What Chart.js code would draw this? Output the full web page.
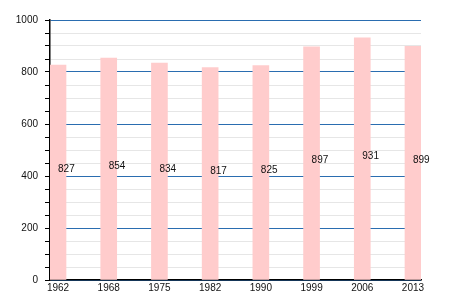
<!DOCTYPE html>
<html><head><meta charset="utf-8">
<script src="https://cdn.jsdelivr.net/npm/chart.js@4/dist/chart.umd.min.js"></script>
<style>html,body{margin:0;padding:0;background:#fff}#w{width:450px;height:300px}</style>
</head><body><div id="w"><canvas id="c"></canvas></div>
<script>
const years = ['1962','1968','1975','1982','1990','1999','2006','2013'];
const population = [827, 854, 834, 817, 825, 897, 931, 899];
const yMax = 1000;
const yMinorStep = 50;
const yMajorStep = 200;

const FONT = {family: '"Liberation Sans", Arial, sans-serif', size: 10};

const valueLabels = {
  id: 'valueLabels',
  afterDatasetsDraw(chart) {
    const ctx = chart.ctx;
    const xs = chart.scales.x, ys = chart.scales.y;
    ctx.save();
    ctx.font = '10px "Liberation Sans", Arial, sans-serif';
    ctx.fillStyle = '#111';
    ctx.textAlign = 'left';
    ctx.textBaseline = 'alphabetic';
    population.forEach((v, i) => {
      ctx.fillText(String(v), xs.getPixelForValue(i), ys.getPixelForValue(v / 2));
    });
    ctx.restore();
  }
};

new Chart(document.getElementById('c'), {
  type: 'bar',
  data: {
    datasets: [{
      data: population.map((v, i) => ({x: i, y: v})),
      backgroundColor: '#ffcccc',
      borderWidth: 0,
      barThickness: 16
    }]
  },
  options: {
    responsive: true,
    maintainAspectRatio: false,
    animation: false,
    layout: {padding: {left: 0, right: 29, top: 20, bottom: 0}},
    plugins: {legend: {display: false}, tooltip: {enabled: false}},
    scales: {
      x: {
        type: 'linear',
        offset: false,
        min: -0.158,
        max: 7.158,
        afterBuildTicks(axis) { axis.ticks = years.map((_, i) => ({value: i})); },
        afterFit(axis) { axis.height = 20; },
        ticks: {
          callback: (v) => years[v],
          font: FONT, color: '#111', padding: 2, maxRotation: 0, autoSkip: false
        },
        grid: {display: false, drawTicks: false},
        border: {display: true, color: '#000', width: 1.5}
      },
      y: {
        min: 0, max: yMax,
        afterFit(axis) { axis.width = 50; },
        ticks: {
          stepSize: yMinorStep,
          autoSkip: false,
          callback: (v) => (v % yMajorStep === 0 ? String(v) : ''),
          font: FONT, color: '#111', padding: 7
        },
        grid: {
          color: (c) => (c.tick && c.tick.value % yMajorStep === 0 ? '#2a6db0' : '#e6e6e6'),
          lineWidth: 1,
          tickLength: 5,
          tickColor: '#000',
          drawTicks: true
        },
        border: {display: true, color: '#000', width: 1.5}
      }
    }
  },
  plugins: [valueLabels]
});
</script>
</body></html>
